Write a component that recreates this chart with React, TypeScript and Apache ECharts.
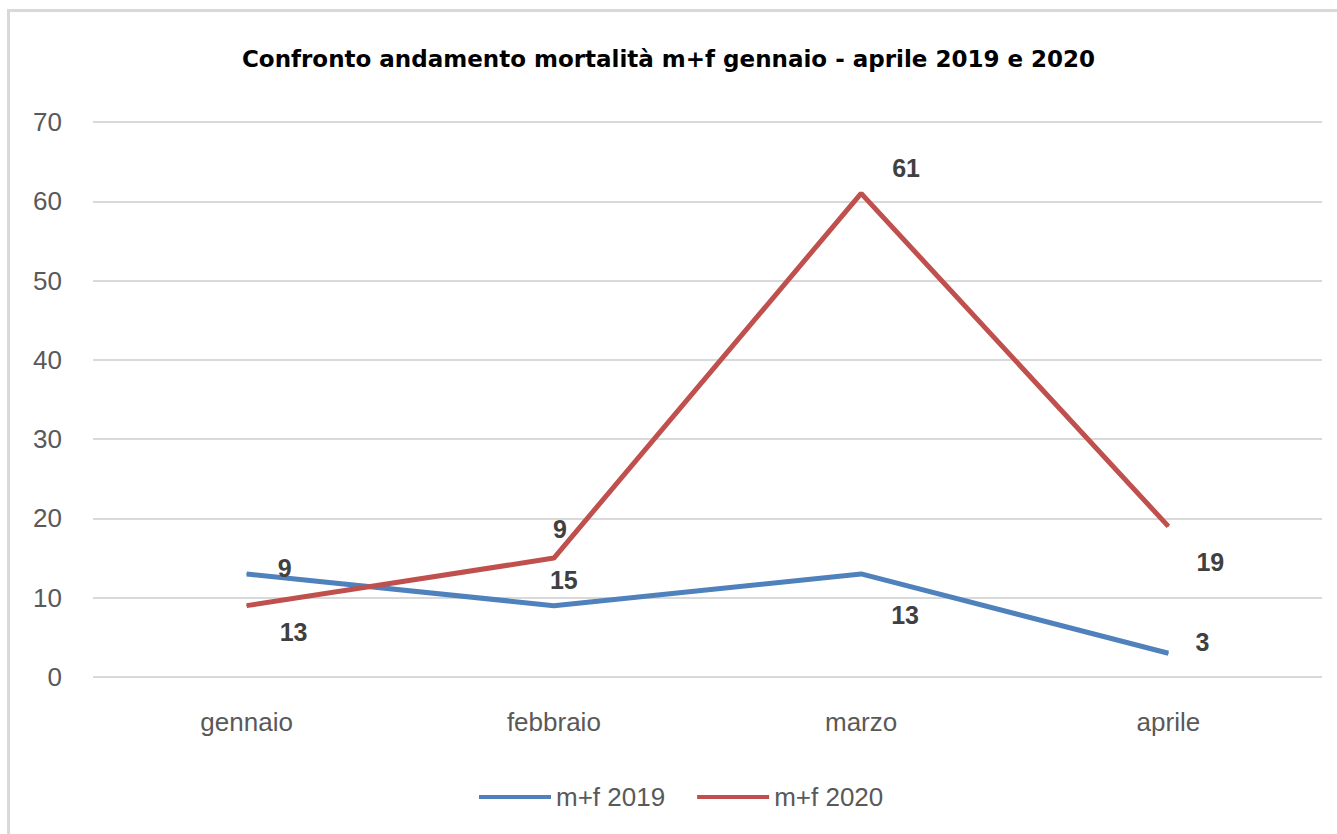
import React, { useEffect, useRef } from "react";
import * as echarts from "echarts";

const categories = ["gennaio", "febbraio", "marzo", "aprile"];
const series2019 = [13, 9, 13, 3];
const series2020 = [9, 15, 61, 19];
const seriesNames = ["m+f 2019", "m+f 2020"];
const titleText = "Confronto andamento mortalità m+f gennaio - aprile 2019 e 2020";

const FONT = "'Liberation Sans', Arial, sans-serif";

const offsets2019 = [[47, 58], [6, -77], [44, 41], [34, -11]];
const offsets2020 = [[38, -38], [10, 22], [45, -25], [42, 36]];

function withLabels(values: number[], offs: number[][]) {
  return values.map((v, i) => ({
    value: v,
    label: { offset: offs[i] },
  }));
}

export default function App() {
  const ref = useRef<HTMLDivElement>(null);
  useEffect(() => {
    if (!ref.current) return;
    const chart = echarts.init(ref.current, undefined, { renderer: "svg" });
    const labelStyle = {
      show: true,
      position: "inside",
      align: "center",
      verticalAlign: "middle",
      fontFamily: FONT,
      fontSize: 25,
      fontWeight: "bold",
      color: "#404040",
    };
    chart.setOption({
      animation: false,
      backgroundColor: "#ffffff",
      graphic: [
        {
          type: "rect",
          shape: { x: 8.5, y: 10.5, width: 1340, height: 830 },
          style: { fill: "none", stroke: "#d9d9d9", lineWidth: 3 },
          silent: true,
        },
      ],
      title: {
        text: titleText,
        left: "center",
        top: 47,
        padding: [0, 0, 0, 20],
        textStyle: {
          fontFamily: "'DejaVu Sans', sans-serif",
          fontWeight: "bold",
          fontSize: 23,
          color: "#000000",
        },
      },
      legend: {
        data: seriesNames,
        left: 474,
        top: 779,
        icon: "rect",
        itemWidth: 72,
        itemHeight: 4,
        itemGap: 32,
        textStyle: {
          fontFamily: FONT,
          fontSize: 26,
          color: "#595959",
        },
      },
      grid: { left: 93, right: 15, top: 122, bottom: 157, containLabel: false },
      xAxis: {
        type: "category",
        data: categories,
        boundaryGap: true,
        axisLine: { show: false },
        axisTick: { show: false },
        axisLabel: {
          margin: 32,
          fontFamily: FONT,
          fontSize: 26,
          color: "#595959",
        },
      },
      yAxis: {
        type: "value",
        min: 0,
        max: 70,
        interval: 10,
        axisLine: { show: false },
        axisTick: { show: false },
        axisLabel: {
          margin: 31,
          fontFamily: FONT,
          fontSize: 26,
          color: "#595959",
        },
        splitLine: { lineStyle: { color: "#d9d9d9", width: 2 } },
      },
      series: [
        {
          name: seriesNames[0],
          type: "line",
          data: withLabels(series2019, offsets2019),
          symbol: "circle",
          symbolSize: 1,
          showSymbol: true,
          itemStyle: { color: "#4f81bd" },
          lineStyle: { color: "#4f81bd", width: 5 },
          label: labelStyle,
          z: 2,
        },
        {
          name: seriesNames[1],
          type: "line",
          data: withLabels(series2020, offsets2020),
          symbol: "circle",
          symbolSize: 1,
          showSymbol: true,
          itemStyle: { color: "#c0504d" },
          lineStyle: { color: "#c0504d", width: 5 },
          label: labelStyle,
          z: 3,
        },
      ],
    });
    return () => chart.dispose();
  }, []);
  return (
    <div
      ref={ref}
      style={{ position: "fixed", left: 0, top: 0, width: 1337, height: 834 }}
    />
  );
}
